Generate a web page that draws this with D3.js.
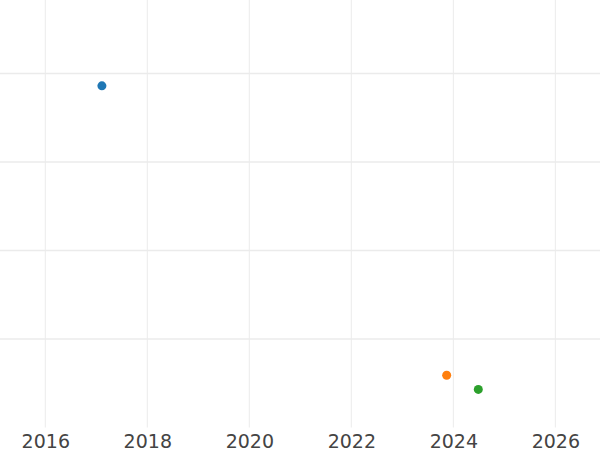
<!DOCTYPE html>
<html>
<head>
<meta charset="utf-8">
<script src="https://cdn.jsdelivr.net/npm/d3@7"></script>
<style>
  html, body { margin: 0; padding: 0; background: #fff; }
  svg { display: block; }
</style>
</head>
<body>
<svg id="chart" width="600" height="450"></svg>
<script>
// Data (decimal years, values in grid units)
const seriesNames = ["A", "B", "C"];
const xValues = [2017.11, 2023.87, 2024.49];
const yValues = [3.86, 0.59, 0.43];
const colors = ["#1f77b4", "#ff7f0e", "#2ca02c"];
const xTickValues = [2016, 2018, 2020, 2022, 2024, 2026];
const yTickValues = [1, 2, 3, 4];

const W = 600, H = 450;
const plotBottom = 427.5;

const svg = d3.select("#chart");

const x = d3.scaleLinear().domain([2015.112, 2026.876]).range([0, W]);
const y = d3.scaleLinear().domain([0, 4.83]).range([plotBottom, 0]);

// vertical grid
svg.append("g")
  .selectAll("line")
  .data(xTickValues)
  .join("line")
  .attr("x1", d => x(d)).attr("x2", d => x(d))
  .attr("y1", 0).attr("y2", plotBottom)
  .attr("stroke", "#ebebeb").attr("stroke-width", 1);

// horizontal grid
svg.append("g")
  .selectAll("line")
  .data(yTickValues)
  .join("line")
  .attr("x1", 0).attr("x2", W)
  .attr("y1", d => y(d)).attr("y2", d => y(d))
  .attr("stroke", "#ebebeb").attr("stroke-width", 1.5);

// x axis labels
const xAxis = d3.axisBottom(x).tickValues(xTickValues).tickFormat(d3.format("d")).tickSize(0).tickPadding(0);
const gx = svg.append("g").attr("transform", `translate(0,${plotBottom})`).call(xAxis);
gx.select(".domain").remove();
gx.selectAll("text")
  .attr("font-family", "DejaVu Sans")
  .attr("font-size", "19px")
  .attr("fill", "#444")
  .attr("dy", null)
  .attr("y", 20);

// points
svg.append("g")
  .selectAll("circle")
  .data(xValues.map((v, i) => ({ x: v, y: yValues[i], c: colors[i], n: seriesNames[i] })))
  .join("circle")
  .attr("cx", d => x(d.x))
  .attr("cy", d => y(d.y))
  .attr("r", 4.5)
  .attr("fill", d => d.c);
</script>
</body>
</html>
